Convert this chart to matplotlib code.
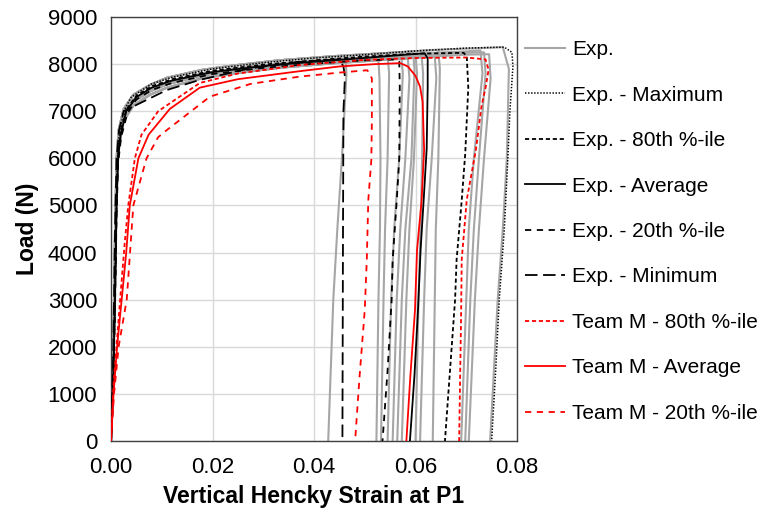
import matplotlib
matplotlib.use('Agg')
import matplotlib.pyplot as plt
from matplotlib.ticker import MultipleLocator, FormatStrFormatter

plt.rcParams['font.family'] = ['Liberation Sans', 'DejaVu Sans']
plt.rcParams['lines.scale_dashes'] = False

# ---- experimental tests (gray) ----
# shared strain points of the rising branch, and the load bands the tests follow
rise_strain = [0, 0.0004, 0.0008, 0.0011, 0.0015, 0.0025, 0.0044, 0.0077, 0.011,
               0.018, 0.024, 0.033, 0.044, 0.055, 0.0635, 0.07, 0.075]
band_hi = [0, 1500, 4500, 6000, 6600, 7050, 7350, 7560, 7710, 7880, 7970, 8080, 8170, 8240, 8300, 8330, 8350]
band_mid = [0, 1300, 4000, 5800, 6450, 6950, 7250, 7470, 7620, 7800, 7900, 8010, 8100, 8180, 8240, 8270, 8290]
band_mid2 = [0, 1200, 3800, 5600, 6350, 6880, 7200, 7420, 7570, 7760, 7860, 7970, 8060, 8140, 8200, 8240, 8260]
band_lo = [0, 1100, 3500, 5400, 6200, 6800, 7120, 7350, 7500, 7700, 7800, 7920, 8020, 8100, 8160, 8200, 8220]

gray_band = [band_hi, band_lo, band_mid, band_mid2, band_lo, band_hi, band_mid,
             band_mid2, band_lo, band_hi, band_mid, band_mid2, band_lo, band_hi]
# failure branch of each test: strains and loads after the peak
gray_tail_strain = [
    [0.0462, 0.0464, 0.0455, 0.0446, 0.0438, 0.0428],
    [0.0527, 0.0529, 0.0531, 0.0530, 0.0527, 0.0523],
    [0.0545, 0.0548, 0.0545, 0.0540, 0.0537, 0.0532],
    [0.0572, 0.0575, 0.0568, 0.0558, 0.0552, 0.0545],
    [0.0585, 0.0588, 0.0580, 0.0570, 0.0563, 0.0555],
    [0.0595, 0.0598, 0.0592, 0.0580, 0.0573, 0.0564],
    [0.0600, 0.0603, 0.0597, 0.0588, 0.0582, 0.0573],
    [0.0612, 0.0615, 0.0613, 0.0610, 0.0606, 0.0600],
    [0.0638, 0.0641, 0.0632, 0.0622, 0.0617, 0.0609],
    [0.0645, 0.0648, 0.0645, 0.0640, 0.0638, 0.0634],
    [0.0728, 0.0732, 0.0715, 0.0705, 0.0700, 0.0690],
    [0.0735, 0.0738, 0.0725, 0.0715, 0.0708, 0.0698],
    [0.0745, 0.0748, 0.0735, 0.0725, 0.0717, 0.0705],
    [0.0772, 0.0784, 0.0780, 0.0772, 0.0762, 0.0747],
]
gray_tail_load = [
    [8160, 7800, 6000, 4500, 3000, 0],
    [8080, 7700, 6000, 4500, 3000, 0],
    [8170, 7800, 6000, 4500, 3000, 0],
    [8170, 7800, 6000, 4500, 3000, 0],
    [8110, 7700, 6000, 4500, 3000, 0],
    [8260, 7900, 6000, 4500, 3000, 0],
    [8210, 7800, 6000, 4500, 3000, 0],
    [8180, 7800, 6000, 4500, 3000, 0],
    [8160, 7700, 6000, 4500, 3000, 0],
    [8300, 7900, 6000, 4500, 3000, 0],
    [8290, 7800, 6000, 4500, 3000, 0],
    [8250, 7800, 6000, 4500, 3000, 0],
    [8210, 7700, 6000, 4500, 3000, 0],
    [8360, 7900, 6000, 4500, 3000, 0],
]

# ---- experimental statistics (black) ----
max_strain = [0, 0.0004, 0.0009, 0.0012, 0.0016, 0.0025, 0.004, 0.008, 0.012, 0.02, 0.03, 0.04, 0.05,
              0.06, 0.07, 0.0775, 0.079, 0.0792, 0.0786, 0.0782, 0.0775, 0.0765, 0.0758, 0.075]
max_load = [0, 1200, 4000, 5800, 6500, 7000, 7300, 7580, 7720, 7900, 8030, 8130, 8200,
            8280, 8340, 8360, 8250, 7950, 7000, 6000, 4500, 3000, 1500, 0]

p80_strain = [0, 0.0004, 0.0008, 0.0011, 0.0014, 0.0019, 0.003, 0.005, 0.008, 0.012, 0.02, 0.03, 0.04,
              0.05, 0.06, 0.0695, 0.0701, 0.0704, 0.0698, 0.0691, 0.0681, 0.0678, 0.0668, 0.0658]
p80_load = [0, 1100, 3200, 5100, 6050, 6550, 7030, 7330, 7530, 7680, 7860, 7990, 8080,
            8160, 8220, 8240, 8160, 7500, 6100, 5100, 3850, 3000, 1500, 0]

avg_strain = [0, 0.0004, 0.0008, 0.0011, 0.0014, 0.0019, 0.003, 0.005, 0.008, 0.012, 0.02, 0.03, 0.04,
              0.05, 0.058, 0.0618, 0.0624, 0.0624, 0.0622, 0.0616, 0.061, 0.0605, 0.0598, 0.0589]
avg_load = [0, 1000, 3000, 5000, 6000, 6500, 7000, 7300, 7500, 7650, 7830, 7960, 8050,
            8130, 8200, 8230, 8120, 7500, 6200, 5100, 4050, 2800, 1400, 0]

p20_strain = [0, 0.0004, 0.0008, 0.0011, 0.0014, 0.002, 0.0032, 0.005, 0.008, 0.012, 0.02, 0.03, 0.04,
              0.05, 0.0562, 0.0568, 0.0569, 0.0568, 0.0563, 0.0555, 0.0553, 0.0545, 0.0535]
p20_load = [0, 950, 2900, 4800, 5900, 6450, 6950, 7250, 7450, 7600, 7790, 7920, 8010,
            8080, 8100, 8050, 7500, 6000, 5100, 3850, 3000, 1500, 0]

min_strain = [0, 0.0004, 0.0008, 0.0011, 0.0016, 0.0025, 0.0057, 0.011, 0.0175, 0.0274, 0.0372, 0.045,
              0.0458, 0.0461, 0.0458, 0.0457, 0.0456]
min_load = [0, 1500, 4500, 6000, 6600, 7000, 7170, 7450, 7665, 7910, 8050, 8100,
            7950, 7735, 7000, 4000, 0]

# ---- Team M predictions (red) ----
m80_strain = [0, 0.0005, 0.0018, 0.0027, 0.0034, 0.0047, 0.006, 0.0093, 0.0175, 0.025, 0.0372, 0.05,
              0.06, 0.07, 0.0738, 0.0744, 0.0738, 0.073, 0.0719, 0.0701, 0.0691, 0.069, 0.0688, 0.0686]
m80_load = [0, 1200, 3000, 4200, 5000, 6000, 6500, 7000, 7600, 7800, 7980, 8090,
            8130, 8140, 8100, 7880, 7500, 7100, 6180, 5120, 3840, 2780, 1400, 0]

mavg_strain = [0, 0.0005, 0.0012, 0.0021, 0.003, 0.0037, 0.0054, 0.0074, 0.0116, 0.0175, 0.025, 0.0372,
               0.045, 0.052, 0.057, 0.0585, 0.06, 0.0609, 0.0614, 0.0617, 0.0612, 0.0603, 0.0599, 0.059, 0.0582]
mavg_load = [0, 1000, 2000, 3000, 4000, 5000, 6000, 6500, 7050, 7500, 7680, 7850,
             7950, 8000, 8020, 7950, 7750, 7520, 7200, 6180, 5100, 4050, 2780, 1400, 0]

m20_strain = [0, 0.0006, 0.0015, 0.0031, 0.0044, 0.007, 0.0093, 0.011, 0.0195, 0.0275, 0.0372, 0.045,
              0.0505, 0.0514, 0.0514, 0.0513, 0.0507, 0.0504, 0.050, 0.049, 0.0481]
m20_load = [0, 1000, 2000, 3000, 5000, 6000, 6450, 6600, 7310, 7580, 7735, 7820,
            7870, 7700, 6800, 5970, 5120, 3840, 2780, 1400, 0]

GRAY = '#a6a6a6'
RED = '#ff0000'

fig = plt.figure(figsize=(7.62, 5.15), dpi=100)
ax = fig.add_axes([111 / 762, 1 - 441 / 515, 406 / 762, 424 / 515])

for i in range(len(gray_band)):
    xs = [s for s in rise_strain if s < gray_tail_strain[i][0]]
    ys = gray_band[i][:len(xs)]
    xs = xs + gray_tail_strain[i]
    ys = ys + gray_tail_load[i]
    ax.plot(xs, ys, color=GRAY, lw=1.5, label='Exp.' if i == 0 else '_nolegend_', zorder=2)

ax.plot(max_strain, max_load, color='black', lw=1.1, dashes=(1, 1.2), label='Exp. - Maximum', zorder=3)
ax.plot(p80_strain, p80_load, color='black', lw=1.3, dashes=(3, 2), label='Exp. - 80th %-ile', zorder=3)
ax.plot(avg_strain, avg_load, color='black', lw=1.3, label='Exp. - Average', zorder=3)
ax.plot(p20_strain, p20_load, color='black', lw=1.3, dashes=(4.5, 4), label='Exp. - 20th %-ile', zorder=3)
ax.plot(min_strain, min_load, color='black', lw=1.3, dashes=(9, 4), label='Exp. - Minimum', zorder=3)
ax.plot(m80_strain, m80_load, color=RED, lw=1.3, dashes=(3, 2), label='Team M - 80th %-ile', zorder=4)
ax.plot(mavg_strain, mavg_load, color=RED, lw=1.3, label='Team M - Average', zorder=4)
ax.plot(m20_strain, m20_load, color=RED, lw=1.3, dashes=(4.5, 4), label='Team M - 20th %-ile', zorder=4)

ax.set_xlim(0, 0.08)
ax.set_ylim(0, 9000)
ax.xaxis.set_major_locator(MultipleLocator(0.02))
ax.yaxis.set_major_locator(MultipleLocator(1000))
ax.xaxis.set_major_formatter(FormatStrFormatter('%.2f'))
ax.grid(True, color='#d9d9d9', lw=1)
ax.set_axisbelow(True)
for sp in ax.spines.values():
    sp.set_color('#404040')
    sp.set_linewidth(1)
ax.tick_params(axis='both', length=0, labelsize=16)
ax.tick_params(axis='y', pad=10)
ax.tick_params(axis='x', pad=11.5)

ax.set_xlabel('Vertical Hencky Strain at P1', fontsize=16.5, fontweight='bold', labelpad=5)
ax.set_ylabel('Load (N)', fontsize=16.5, fontweight='bold', labelpad=6)

fig.legend(loc='upper left', bbox_to_anchor=(0.689, 0.922), frameon=False, fontsize=15,
           handlelength=1.9, handletextpad=0.35, labelspacing=1.27, borderpad=0, borderaxespad=0)

fig.savefig('out.png', dpi=100)
